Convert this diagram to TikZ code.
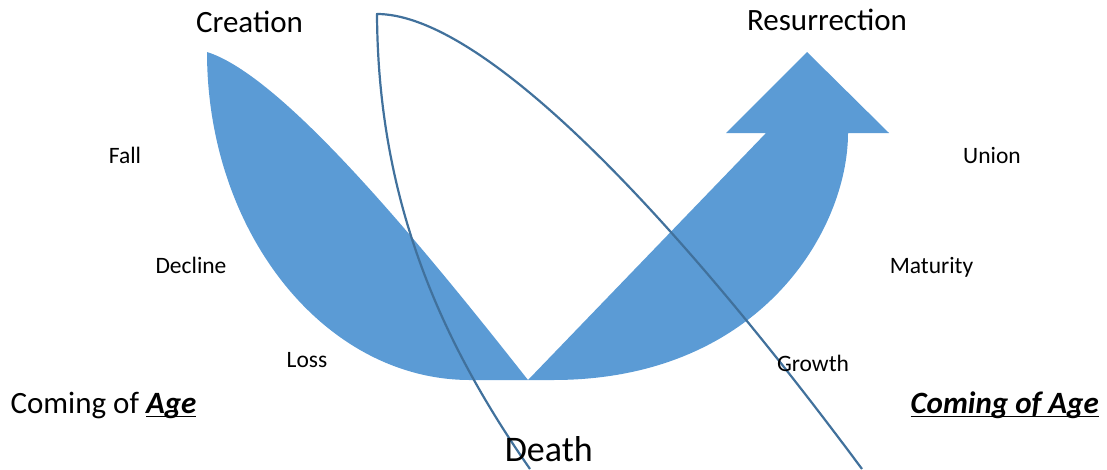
\documentclass[tikz,border=0pt]{standalone}
\usepackage{fontspec}
\setmainfont{Carlito}
\usetikzlibrary{positioning}
\definecolor{agefill}{HTML}{5B9BD5}
\definecolor{agestroke}{HTML}{41719C}
\newcommand{\ulword}[1]{\setbox0\hbox{#1}\rlap{\rule[-4.3pt]{\wd0}{1.8pt}}\box0}

\begin{document}
\begin{tikzpicture}[x=1pt, y=-1pt,
    big/.style={font=\fontsize{31}{37}\selectfont, inner sep=0pt, anchor=base},
    small/.style={font=\fontsize{23.5}{28}\selectfont, inner sep=0pt, anchor=base}]
  \useasboundingbox (0,0) rectangle (1107,469);
  % bent arrow
  \fill[agefill] (207,52) .. controls (207,233) and (325,380) .. (470,380)
    -- (553,380) .. controls (760,380) and (848,230) .. (848,133)
    -- (889,133) -- (807,52) -- (726,133) -- (766,133) -- (528,380)
    .. controls (410,230) and (280,75) .. (207,52) -- cycle;
  % outline curve
  \coordinate (top) at (377,14);
  \draw[agestroke, line width=2.2pt, line join=round]
    (530,469) .. controls (440,340) and (378,200) .. (top)
    .. controls (470,14) and (640,170) .. (862,469);
  \node[big] (creation) at (249.5,32) {Creation};
  \node[big] (resurrection) at (827,30) {Resurrection};
  \node[small] (fall) at (125,163) {Fall};
  \node[small] (union) at (992,163) {Union};
  \node[small] (decline) at (191,273) {Decline};
  \node[small] (maturity) at (931.5,273) {Maturity};
  \node[small] (loss) at (307,367) {Loss};
  \node[small] (growth) at (813,371) {Growth};
  \node[big] (leftage) at (103.5,413) {Coming of \ulword{\textbf{\textit{Age}}}};
  \node[big] (rightage) at (1004.7,413) {\ulword{\textbf{\textit{Coming of Age}}}};
  \node[font=\fontsize{36}{43}\selectfont, inner sep=0pt, anchor=base] (death) at (548.8,461) {Death};
\end{tikzpicture}
\end{document}
